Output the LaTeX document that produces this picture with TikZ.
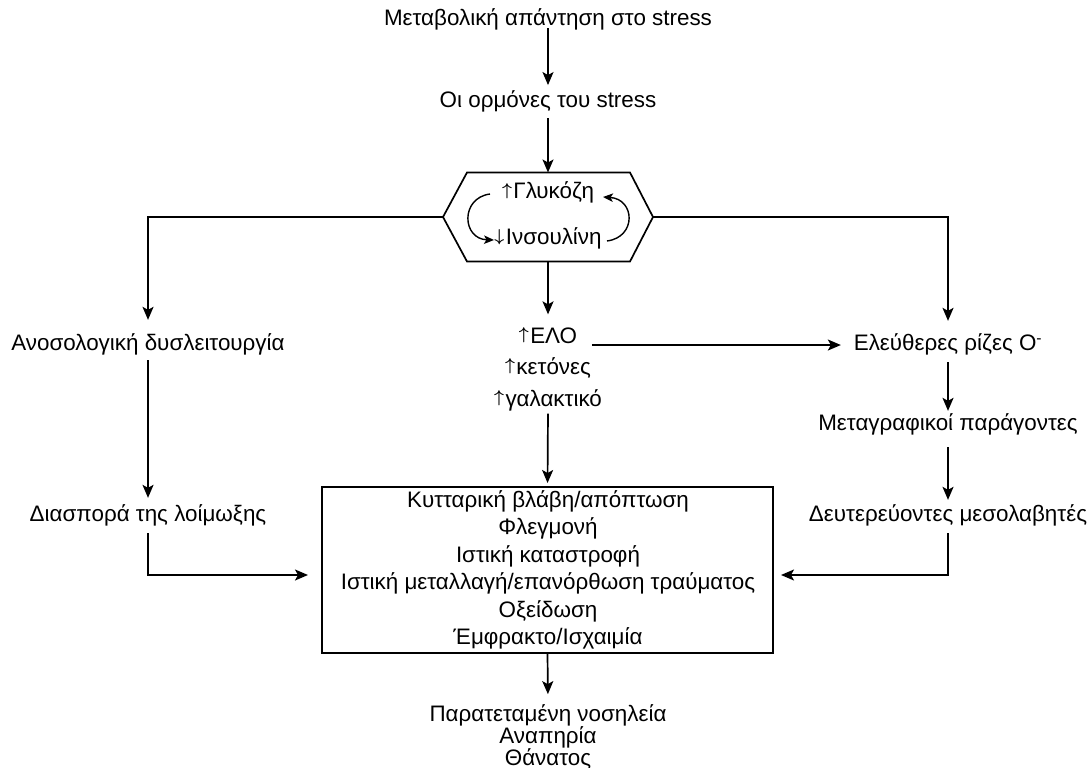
\documentclass[tikz,border=0pt]{standalone}
\usepackage{fontspec}
\setmainfont{Liberation Sans}
\usetikzlibrary{arrows.meta,calc}
\newcommand\myup{\raisebox{3.6pt}{\fontsize{19}{19}\selectfont\boldmath$\uparrow$}\hspace{1.5pt}}
\newcommand\mydown{\raisebox{3.6pt}{\fontsize{19}{19}\selectfont\boldmath$\downarrow$}\hspace{1.5pt}}
\begin{document}
\begin{tikzpicture}[x=1pt,y=-1pt,
  lbl/.style={inner sep=0pt,outer sep=0pt,text height=16pt,text depth=4.3pt,font=\fontsize{22.4}{26}\selectfont},
  multi/.style={inner sep=0pt,outer sep=0pt,align=center},
  arr/.style={line width=1.7pt,-{Stealth[length=13pt,width=11pt,inset=3pt]}},
  carr/.style={line width=1.4pt,-{Stealth[length=10pt,width=8.5pt,inset=2.5pt]}},
  ln/.style={line width=1.7pt},
]
\useasboundingbox (0,0) rectangle (1092,768);
% text nodes
\node[lbl] (title) at (548,20) {Μεταβολική απάντηση στο stress};
\node[lbl] (horm) at (548,102) {Οι ορμόνες του stress};
\node[minimum width=210pt,minimum height=89pt,inner sep=0pt,outer sep=0pt] (hex) at (548,217) {};
\draw[ln,line join=miter] (hex.west) -- ($(hex.north west)+(24,0)$) -- ($(hex.north east)+(-23,0)$) -- (hex.east) -- ($(hex.south east)+(-23,0)$) -- ($(hex.south west)+(24,0)$) -- cycle;
\node[lbl] (gluc) at (548,193) {\myup Γλυκόζη};
\node[lbl] (insu) at (548,239) {\mydown Ινσουλίνη};
\node[lbl] (imm) at (148,345) {Ανοσολογική δυσλειτουργία};
\node[lbl] (free) at (948,345) {Ελεύθερες ρίζες O\textsuperscript{-}};
\node[multi,font=\fontsize{22.4}{31.5}\selectfont] (mid) at (548,369) {\myup ΕΛΟ\\\myup κετόνες\\\myup γαλακτικό};
\node[lbl] (tf) at (948,425) {Μεταγραφικοί παράγοντες};
\node[lbl] (dif) at (148,516) {Διασπορά της λοίμωξης};
\node[lbl] (sec) at (948,516) {Δευτερεύοντες μεσολαβητές};
\node[draw,line width=1.7pt,minimum width=451pt,minimum height=166pt,inner sep=0pt,outer sep=0pt] (box) at (547.5,570) {};
\node[multi,font=\fontsize{22.4}{27.5}\selectfont] (boxtxt) at (548,570) {Κυτταρική βλάβη/απόπτωση\\Φλεγμονή\\Ιστική καταστροφή\\Ιστική μεταλλαγή/επανόρθωση τραύματος\\Οξείδωση\\Έμφρακτο/Ισχαιμία};
\node[multi,font=\fontsize{22.4}{22}\selectfont] (out) at (548,736.5) {Παρατεταμένη νοσηλεία\\Αναπηρία\\Θάνατος};
% connectors
\draw[arr,shorten <=-2pt,shorten >=6.8pt] (title) -- (horm);
\draw[arr,shorten <=6pt] (horm) -- (hex.north);
\draw[carr] ($(hex.center)+(-58,-23)$) .. controls +(-30,4) and +(-32,-1) .. ($(hex.center)+(-54,23)$);
\draw[carr] ($(hex.center)+(59,24)$) .. controls +(30,-4) and +(32,2) .. ($(hex.center)+(55,-20)$);
\draw[arr,shorten >=15pt] (hex.west) -| (imm.north);
\draw[arr,shorten >=14pt] (hex.east) -| (free.north);
\draw[arr,shorten >=13pt] (hex.south) -- (mid.north);
\draw[arr,shorten <=3pt,shorten >=4pt] (mid.south) -- (box.north);
\draw[arr,shorten <=-10pt,shorten >=13pt] (mid.east |- free.west) -- (free.west);
\draw[arr,shorten <=5pt,shorten >=8pt] (imm) -- (dif);
\draw[arr,shorten <=7pt,shorten >=4pt] (free) -- (tf);
\draw[arr,shorten <=12pt,shorten >=6pt] (tf) -- (sec);
\draw[arr,shorten <=7pt,shorten >=14pt] (dif.south) |- ([yshift=-5pt]box.west);
\draw[arr,shorten <=7pt,shorten >=8pt] (sec.south) |- ([yshift=-5pt]box.east);
\draw[arr,shorten >=10pt] (box.south) -- (out.north);
\end{tikzpicture}
\end{document}
